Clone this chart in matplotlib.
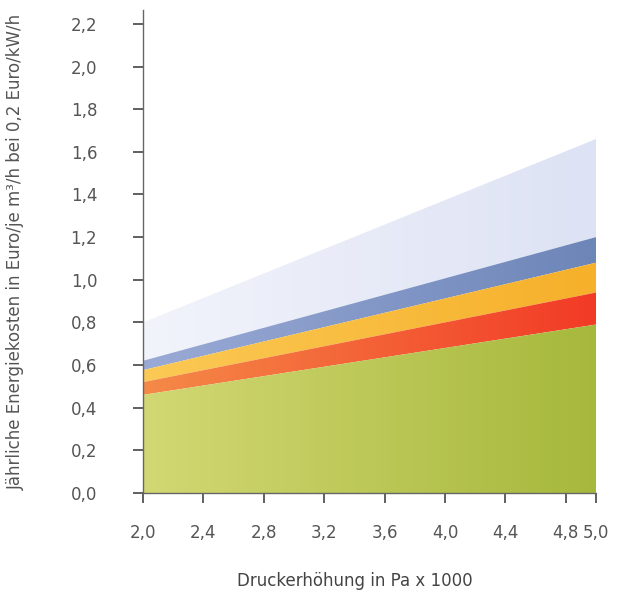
import matplotlib.pyplot as plt
import numpy as np
from matplotlib.colors import LinearSegmentedColormap

# Druckerhöhung (Pa x 1000)
x = [2.0, 5.0]
# obere Kante jeder Schicht (kumuliert)
gruen = [0.46, 0.79]
rot = [0.52, 0.94]
gelb = [0.576, 1.08]
blau = [0.62, 1.20]
hellblau = [0.80, 1.66]

xticks = [2.0, 2.4, 2.8, 3.2, 3.6, 4.0, 4.4, 4.8, 5.0]
yticks = [0.0, 0.2, 0.4, 0.6, 0.8, 1.0, 1.2, 1.4, 1.6, 1.8, 2.0, 2.2]

plt.rcParams['font.family'] = ['DejaVu Sans']
textfarbe = '#555555'

fig = plt.figure(figsize=(6.19, 5.97), dpi=100)
ax = fig.add_axes([143/619, 104/597, 453/619, 483/597])
ymax = 2.265
ax.set_xlim(2.0, 5.0)
ax.set_ylim(0, ymax)

schichten = [
    (hellblau, blau, ['#f2f4fb', '#dde2f4']),
    (blau, gelb, ['#9aaad6', '#6d86b8']),
    (gelb, rot, ['#fbc955', '#f6b02a']),
    (rot, gruen, ['#f58a48', '#f23a26']),
    (gruen, [0, 0], ['#d2d873', '#a6b83c']),
]

grad = np.linspace(0, 1, 256).reshape(1, -1)
for oben, unten, farben in schichten:
    poly = ax.fill_between(x, unten, oben, facecolor='none', edgecolor='none')
    cmap = LinearSegmentedColormap.from_list('g', farben)
    im = ax.imshow(grad, cmap=cmap, aspect='auto', extent=[2.0, 5.0, 0, ymax],
                   origin='lower', zorder=1)
    im.set_clip_path(poly.get_paths()[0], transform=ax.transData)

for s in ['top', 'right']:
    ax.spines[s].set_visible(False)
for s in ['left', 'bottom']:
    ax.spines[s].set_color('#666666')
    ax.spines[s].set_linewidth(1.0)
    ax.spines[s].set_zorder(3)

ax.set_xticks(xticks)
ax.set_xticklabels([f'{v:.1f}'.replace('.', ',') for v in xticks])
ax.set_yticks(yticks)
ax.set_yticklabels([f'{v:.1f}'.replace('.', ',') for v in yticks])
ax.tick_params(axis='y', direction='out', length=7, width=1.2, pad=26,
               colors='#444444', labelcolor=textfarbe, labelsize=12)
ax.tick_params(axis='x', direction='out', length=7, width=1.2, pad=15,
               colors='#444444', labelcolor=textfarbe, labelsize=12)

fig.text(355/619, 1 - 581/597, 'Druckerhöhung in Pa x 1000', ha='center', va='center',
         fontsize=12, color='#444444')
fig.text(16/619, 1 - 252/597, 'Jährliche Energiekosten in Euro/je m³/h bei 0,2 Euro/kW/h',
         ha='center', va='center', rotation=90, fontsize=12, color=textfarbe)

fig.savefig('out.png', dpi=100)
